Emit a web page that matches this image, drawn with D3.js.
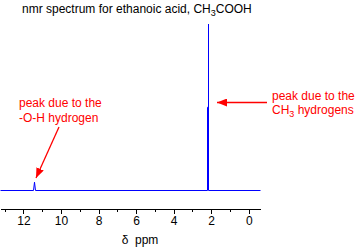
<!DOCTYPE html>
<html><head><meta charset="utf-8">
<script src="https://cdn.jsdelivr.net/npm/d3@7"></script>
<style>body{margin:0;background:#fff}svg{display:block}text{font-family:"Liberation Sans",Arial,sans-serif}</style>
</head><body>
<script>
const majorTicks = [12, 10, 8, 6, 4, 2, 0];
const minorTicks = [13, 11, 9, 7, 5, 3, 1];
const spectrumPpm = [13.25, 11.5, 11.45, 11.4, 2.22, 2.22, 2.17, 2.17, 2.17, -0.6];
const spectrumInt = [0, 0, 5, 0, 0, 50, 50, 100, 0, 0];

const W = 358, H = 250;
const svg = d3.select("body").append("svg").attr("width", W).attr("height", H);
const x = d3.scaleLinear().domain([13.25, -0.6]).range([0, 260]);
const y = d3.scaleLinear().domain([0, 100]).range([190.5, 24]);

svg.append("text").attr("x", 22).attr("y", 13).attr("font-size", 12).attr("fill", "#000")
  .text("nmr spectrum for ethanoic acid, CH")
  .append("tspan").attr("font-size", 9).attr("dy", 3).text("3")
  .select(function(){return this.parentNode;})
  .append("tspan").attr("dy", -3).text("COOH");

const pts = spectrumPpm.map((p, i) => [p, spectrumInt[i]]);
svg.append("path").attr("d", d3.line().x(d => Math.round(x(d[0])) + 0.5).y(d => y(d[1]))(pts))
  .attr("fill", "none").attr("stroke", "#0000ff").attr("stroke-width", 1);

const gA = svg.append("g").attr("transform", "translate(0,208.5)");
gA.call(d3.axisBottom(x).tickValues(majorTicks).tickSize(5).tickSizeOuter(0).tickPadding(3));
gA.append("g").call(d3.axisBottom(x).tickValues(minorTicks).tickSize(3).tickFormat("").tickSizeOuter(0))
  .select(".domain").remove();
gA.selectAll("text").attr("font-size", 12).attr("font-family", "Liberation Sans, Arial, sans-serif").attr("fill", "#000");
gA.selectAll("line,path").attr("stroke", "#000").attr("shape-rendering", "crispEdges");

svg.append("text").attr("x", 140).attr("y", 244).attr("text-anchor", "middle").attr("font-size", 12).text("δ  ppm").attr("xml:space","preserve");

const defs = svg.append("defs");
defs.append("marker").attr("id", "ah").attr("viewBox", "0 0 10 8").attr("refX", 10).attr("refY", 4)
  .attr("markerWidth", 10).attr("markerHeight", 8).attr("markerUnits", "userSpaceOnUse").attr("orient", "auto")
  .append("path").attr("d", "M0,0L10,4L0,8Z").attr("fill", "#ff0000");

const red = "#ff0000";
svg.append("text").attr("x", 19).attr("y", 107).attr("font-size", 12).attr("fill", red).text("peak due to the");
svg.append("text").attr("x", 19).attr("y", 122).attr("font-size", 12).attr("fill", red).text("-O-H hydrogen");
svg.append("line").attr("x1", 59).attr("y1", 127).attr("x2", 36).attr("y2", 178)
  .attr("stroke", red).attr("stroke-width", 1.3).attr("marker-end", "url(#ah)");

svg.append("text").attr("x", 272).attr("y", 100).attr("font-size", 12).attr("fill", red).text("peak due to the");
const t2 = svg.append("text").attr("x", 272).attr("y", 114).attr("font-size", 12).attr("fill", red);
t2.append("tspan").text("CH");
t2.append("tspan").attr("font-size", 9).attr("dy", 3).text("3");
t2.append("tspan").attr("dy", -3).text(" hydrogens");
svg.append("line").attr("x1", 267).attr("y1", 102.5).attr("x2", 217).attr("y2", 102.5)
  .attr("stroke", red).attr("stroke-width", 1.3).attr("marker-end", "url(#ah)");
</script>
</body></html>
